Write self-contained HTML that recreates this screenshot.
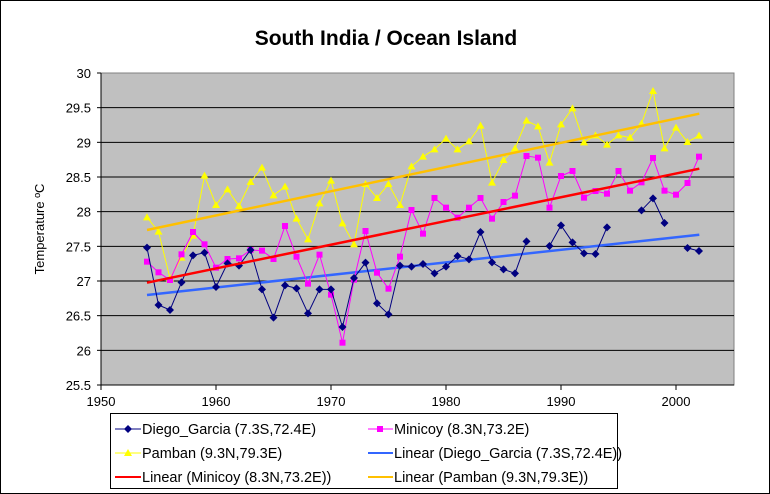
<!DOCTYPE html>
<html><head><meta charset="utf-8"><style>
body{margin:0;background:#fff}
svg{display:block;font-family:"Liberation Sans",Arial,sans-serif}
</style></head><body>
<svg id="s" width="770" height="494" xmlns="http://www.w3.org/2000/svg">
<rect x="0.5" y="0.5" width="769" height="493" fill="#fff" stroke="#000"/>
<text x="386" y="45" font-size="21" font-weight="bold" text-anchor="middle">South India / Ocean Island</text>
<rect x="101" y="73" width="633" height="312" fill="#c0c0c0" stroke="#808080"/>
<g id="grid"></g>
<text transform="translate(44,229) rotate(-90)" font-size="13" text-anchor="middle">Temperature ºC</text>
<g id="data"></g>
<rect x="110.5" y="413.5" width="507" height="75" fill="#fff" stroke="#000"/>
<g font-size="14.5">
<line x1="115" y1="429" x2="141" y2="429" stroke="#000080"/><path d="M128 425l4 4-4 4-4-4z" fill="#000080"/>
<text x="142" y="434">Diego_Garcia (7.3S,72.4E)</text>
<line x1="368" y1="429" x2="393" y2="429" stroke="#ff00ff"/><rect x="377" y="426" width="6" height="6" fill="#ff00ff"/>
<text x="394" y="434">Minicoy (8.3N,73.2E)</text>
<line x1="115" y1="453" x2="141" y2="453" stroke="#ffff00"/><path d="M128 449l4 7h-8z" fill="#ffff00"/>
<text x="142" y="458">Pamban (9.3N,79.3E)</text>
<line x1="368" y1="453" x2="393" y2="453" stroke="#3366ff" stroke-width="2"/>
<text x="394" y="458">Linear (Diego_Garcia (7.3S,72.4E))</text>
<line x1="115" y1="477" x2="141" y2="477" stroke="#ff0000" stroke-width="2"/>
<text x="142" y="482">Linear (Minicoy (8.3N,73.2E))</text>
<line x1="368" y1="477" x2="393" y2="477" stroke="#ffc000" stroke-width="2"/>
<text x="394" y="482">Linear (Pamban (9.3N,79.3E))</text>
</g>
</svg>
<script>
var NS="http://www.w3.org/2000/svg";
function el(p,t,a,txt){var e=document.createElementNS(NS,t);for(var k in a)e.setAttribute(k,a[k]);if(txt)e.textContent=txt;p.appendChild(e);return e;}
var g=document.getElementById("grid");
for(var i=0;i<=9;i++){var y=73+i*312/9;
 if(i>0&&i<9)el(g,"line",{x1:101,x2:734,y1:y,y2:y,stroke:"#000"});
 el(g,"line",{x1:97,x2:101,y1:y,y2:y,stroke:"#000"});
 el(g,"text",{x:91,y:y+5,"font-size":13,"text-anchor":"end"},(30-i*0.5).toString());}
el(g,"line",{x1:101,x2:734,y1:385,y2:385,stroke:"#000"});
el(g,"line",{x1:101,x2:101,y1:73,y2:385,stroke:"#000"});
for(var i=0;i<6;i++){var x=101+i*115;el(g,"line",{x1:x,x2:x,y1:385,y2:390,stroke:"#000"});
 el(g,"text",{x:x,y:406,"font-size":13,"text-anchor":"middle"},(1950+i*10).toString());}
function X(yr){return 101+11.5*(yr-1950);}
// y values in zoom coords: years 1954-1978 zoom1 (y0=60), 1979-2002 zoom2 (y0=60); null=gap
var dg=[563,735,750,667,586,578,681,610,617,570,688,773,676,685,760,688,688,801,654,608,730,763,617,620,612,
640,620,588,598,516,607,628,640,544,null,558,496,547,580,582,502,null,null,451,415,489,null,564,573];
var mc=[605,637,660,583,516,553,623,597,595,570,572,597,498,590,671,584,704,848,659,513,638,686,590,450,521,
414,443,473,443,414,476,426,407,288,293,443,348,333,413,393,401,333,392,367,294,392,404,369,290];
var pb=[472,515,655,593,527,347,435,388,438,366,323,406,380,476,538,430,362,490,553,372,414,372,435,319,290,
268,236,268,244,197,368,300,265,182,199,308,193,145,247,226,254,226,233,191,93,265,203,246,227];
function Y(v){return 60+v/3;}
var d=document.getElementById("data");
// trendlines
el(d,"line",{x1:147,y1:295,x2:699.3,y2:234.7,stroke:"#3366ff","stroke-width":2.5});
function series(arr,col,mk){
 var segs=[],cur=[];
 arr.forEach(function(v,i){if(v===null){if(cur.length)segs.push(cur);cur=[];}else cur.push([X(1954+i),Y(v)]);});
 if(cur.length)segs.push(cur);
 segs.forEach(function(s){el(d,"polyline",{points:s.map(function(p){return p.join(",")}).join(" "),fill:"none",stroke:col,"stroke-width":1});});
 arr.forEach(function(v,i){if(v===null)return;var x=X(1954+i),y=Y(v);
  if(mk=="d")el(d,"path",{d:"M"+x+" "+(y-4)+"l4 4-4 4-4-4z",fill:col});
  else if(mk=="s")el(d,"rect",{x:x-3,y:y-3,width:6,height:6,fill:col});
  else el(d,"path",{d:"M"+x+" "+(y-4)+"l4 7h-8z",fill:col});});
}
series(pb,"#ffff00","t");
series(mc,"#ff00ff","s");
series(dg,"#000080","d");
el(d,"line",{x1:147,y1:282.7,x2:699.3,y2:168.7,stroke:"#ff0000","stroke-width":2.5});
el(d,"line",{x1:147,y1:230,x2:699.3,y2:113.7,stroke:"#ffc000","stroke-width":2.5});
</script>
</body></html>
